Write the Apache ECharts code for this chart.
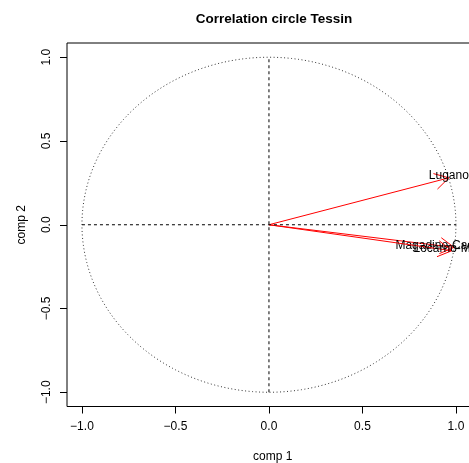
<!DOCTYPE html>
<html>
<head>
<meta charset="utf-8">
<script src="https://cdn.jsdelivr.net/npm/echarts@6/dist/echarts.min.js"></script>
<style>html,body{margin:0;padding:0;background:#fff}#c{width:469px;height:463px}</style>
</head>
<body>
<div id="c"></div>
<script>
const titleText = 'Correlation circle Tessin';
const xName = 'comp 1';
const yName = 'comp 2';
const variables = ['Lugano', 'Magadino-Cadenazzo', 'Locarno-Monti'];
const comp1 = [0.962, 0.99, 0.978];
const comp2 = [0.28, -0.135, -0.155];
const tickValues = [-1, -0.5, 0, 0.5, 1];
const circleRadius = 1;
const hAxisLine = [[-1, 0], [1, 0]];
const vAxisLine = [[0, -1], [0, 1]];

const FONT = 'Liberation Sans, Arial, sans-serif';
const fmt = v => (v < 0 ? '\u2212' : '') + Math.abs(v).toFixed(1);

const chart = echarts.init(document.getElementById('c'), null, {renderer: 'canvas'});

const arrowData = variables.map((n, i) => [comp1[i], comp2[i], n]);

chart.setOption({
  animation: false,
  backgroundColor: '#fff',
  title: {
    text: titleText, left: 269, top: 7, textAlign: 'center',
    textStyle: {fontFamily: FONT, fontSize: 13.5, fontWeight: 'bold', color: '#000'}
  },
  grid: {
    left: 67, top: 43, width: 411.4, height: 363.5,
    outerBoundsMode: 'none', containLabel: false,
    show: true, borderColor: '#000', borderWidth: 1, backgroundColor: 'transparent'
  },
  xAxis: {
    type: 'value', min: -1.08, max: 1.12,
    name: xName, nameLocation: 'middle', nameGap: 44,
    nameTextStyle: {fontFamily: FONT, fontSize: 12, color: '#000'},
    axisLine: {show: false, onZero: false},
    splitLine: {show: false},
    axisTick: {show: true, inside: false, length: 7, customValues: tickValues, lineStyle: {color: '#000'}},
    axisLabel: {customValues: tickValues, formatter: fmt, margin: 14, fontFamily: FONT, fontSize: 12, color: '#000'}
  },
  yAxis: {
    type: 'value', min: -1.085, max: 1.085,
    name: yName, nameLocation: 'middle', nameGap: 39,
    nameTextStyle: {fontFamily: FONT, fontSize: 12, color: '#000'},
    axisLine: {show: false, onZero: false},
    splitLine: {show: false},
    axisTick: {show: true, inside: false, length: 7, customValues: tickValues, lineStyle: {color: '#000'}},
    axisLabel: {customValues: tickValues, formatter: fmt, rotate: 90, margin: 14, fontFamily: FONT, fontSize: 12, color: '#000'}
  },
  series: [
    {
      type: 'custom', silent: true, data: [[0]],
      renderItem: function (params, api) {
        const pts = [];
        for (let k = 0; k <= 360; k++) {
          const t = k / 360 * 2 * Math.PI;
          pts.push(api.coord([circleRadius * Math.cos(t), circleRadius * Math.sin(t)]));
        }
        return {type: 'polyline', shape: {points: pts},
          style: {stroke: '#333', lineWidth: 1, lineDash: [1, 2.5], fill: null}};
      }
    },
    {
      type: 'line', data: hAxisLine, symbol: 'none', silent: true,
      lineStyle: {color: '#000', width: 1, type: [3, 3]}
    },
    {
      type: 'line', data: vAxisLine, symbol: 'none', silent: true,
      lineStyle: {color: '#000', width: 1, type: [3, 3]}
    },
    {
      type: 'custom', silent: true, data: arrowData,
      renderItem: function (params, api) {
        const s = api.coord([0, 0]);
        const e = api.coord([api.value(0), api.value(1)]);
        const ang = Math.atan2(e[1] - s[1], e[0] - s[0]);
        const L = 16, a = Math.PI / 6;
        const h1 = [e[0] - L * Math.cos(ang - a), e[1] - L * Math.sin(ang - a)];
        const h2 = [e[0] - L * Math.cos(ang + a), e[1] - L * Math.sin(ang + a)];
        const st = {stroke: '#ff0000', lineWidth: 1};
        return {type: 'group', children: [
          {type: 'line', shape: {x1: s[0], y1: s[1], x2: e[0], y2: e[1]}, style: st},
          {type: 'polyline', shape: {points: [h1, e, h2]}, style: Object.assign({fill: null}, st)},
          {type: 'text', x: e[0], y: e[1] - 2, style: {text: arrowData[params.dataIndex][2],
            align: 'center', verticalAlign: 'middle', font: '12px ' + FONT, fill: '#000'}}
        ]};
      }
    }
  ]
});
</script>
</body>
</html>
